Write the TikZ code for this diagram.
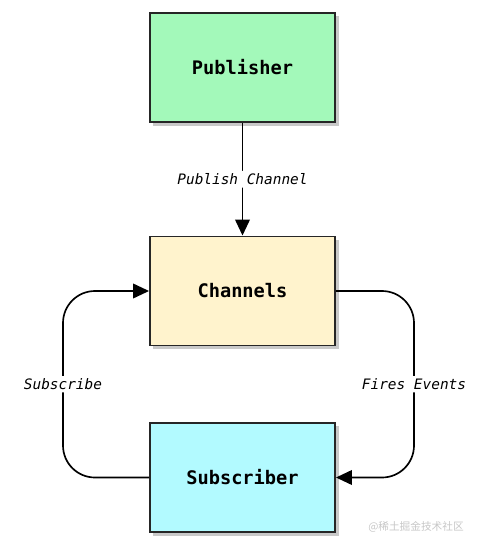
\documentclass[tikz,border=0pt]{standalone}
\usepackage{fontspec}
\setmonofont{DejaVu Sans Mono}
\newfontfamily\cjkfont{Noto Sans CJK SC}
\usetikzlibrary{arrows.meta,shadows}
\definecolor{pubgreen}{RGB}{163,249,186}
\definecolor{chanyellow}{RGB}{255,243,205}
\definecolor{subcyan}{RGB}{178,250,255}
\tikzset{
  box/.style={draw=black!85, line width=1.2pt, minimum width=139pt, minimum height=82pt,
    font=\ttfamily\bfseries\fontsize{14}{16}\selectfont,
    drop shadow={shadow xshift=2.5pt, shadow yshift=-2.5pt, opacity=0.3, fill=black!70}},
  flow/.style={line width=1.25pt, -{Triangle[length=12pt,width=11pt]}, rounded corners=24pt},
  lbl/.style={fill=white, inner sep=2pt, font=\ttfamily\itshape\fontsize{10.8}{12}\selectfont}
}
\begin{document}
\begin{tikzpicture}[x=0.75pt,y=-0.75pt]
        \useasboundingbox (0,0) rectangle (497,550);
        \node[box, fill=pubgreen] (pub) at (242.5,67.5) {Publisher};
        \node[box, fill=chanyellow] (chan) at (242.5,291) {Channels};
        \node[box, fill=subcyan] (sub) at (242.5,477.5) {Subscriber};
        \coordinate (sl) at (63,477.5);
        \coordinate (cl) at (63,291);
        \coordinate (cr) at (414,291);
        \coordinate (sr) at (414,477.5);
        \draw [flow] (pub) -- node[lbl]{Publish Channel} (chan);
        \draw [flow] (sub.west) -- (sl) -- node[lbl]{Subscribe} (cl) -- (chan.west);
        \draw [flow] (chan.east) -- (cr) -- node[lbl]{Fires Events} (sr) -- (sub.east);
        \node[text=black!22, font=\cjkfont\fontsize{8}{9}\selectfont] (mark) at (416,527) {@稀土掘金技术社区};
    \end{tikzpicture}
\end{document}
